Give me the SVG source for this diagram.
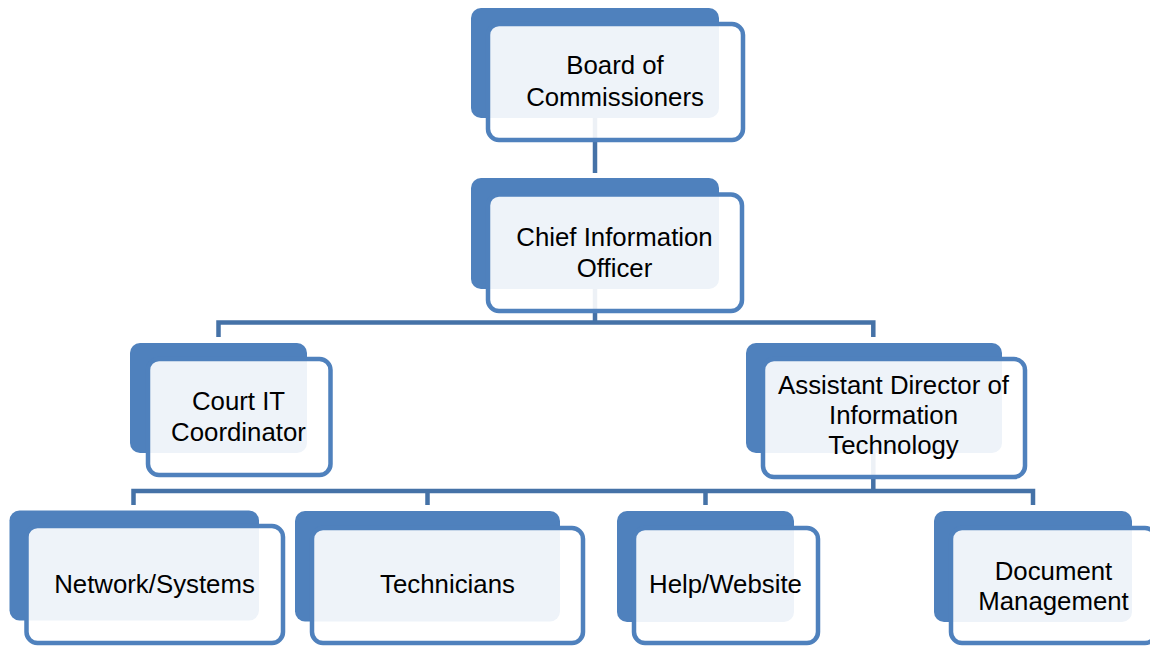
<svg xmlns="http://www.w3.org/2000/svg" width="1150" height="646" viewBox="0 0 1150 646">
<style>
.back{fill:#4F81BD;}
.front{fill:#FFFFFF;fill-opacity:0.9;stroke:#4F81BD;stroke-width:4.5;}
.lbl{font-family:"Liberation Sans",Arial,sans-serif;font-size:25.8px;fill:#000;text-anchor:middle;}
.conn{fill:none;stroke:#4572A7;stroke-width:4.5;stroke-linejoin:miter;stroke-linecap:butt;}
</style>
<rect width="1150" height="646" fill="#FFFFFF"/>
<g id="connectors">
<path class="conn" d="M595,115 V173"/>
<path class="conn" d="M595,285 V322.5 M218.5,337 V322.5 H873.3 V337"/>
<path class="conn" d="M873.3,450 V491 M133.5,505 V491 H1033 V505 M427.5,491 V505 M705.5,491 V505"/>
</g>
<g id="board">
<rect class="back" x="471" y="8" width="248" height="110" rx="10"/>
<rect class="front" x="488" y="24" width="255" height="116" rx="11"/>
<text class="lbl" x="615" y="74">Board of</text>
<text class="lbl" x="615" y="105.5">Commissioners</text>
</g>
<g id="cio">
<rect class="back" x="471" y="178" width="248" height="111" rx="10"/>
<rect class="front" x="488" y="194.5" width="254" height="116.5" rx="11"/>
<text class="lbl" x="614.5" y="246">Chief Information</text>
<text class="lbl" x="614.5" y="276.5">Officer</text>
</g>
<g id="court-it">
<rect class="back" x="130" y="343" width="177" height="110" rx="10"/>
<rect class="front" x="148" y="359" width="182.5" height="116" rx="11"/>
<text class="lbl" x="238.5" y="410">Court IT</text>
<text class="lbl" x="238.5" y="440.5">Coordinator</text>
</g>
<g id="adit">
<rect class="back" x="746" y="343" width="256" height="110" rx="10"/>
<rect class="front" x="763" y="359" width="262" height="118" rx="11"/>
<text class="lbl" x="893.5" y="394">Assistant Director of</text>
<text class="lbl" x="893.5" y="424">Information</text>
<text class="lbl" x="893.5" y="454">Technology</text>
</g>
<g id="network">
<rect class="back" x="9.5" y="510.5" width="249.5" height="110" rx="10"/>
<rect class="front" x="26.5" y="526" width="256.5" height="117" rx="11"/>
<text class="lbl" x="154.5" y="592.5">Network/Systems</text>
</g>
<g id="technicians">
<rect class="back" x="295" y="511" width="265" height="110.5" rx="10"/>
<rect class="front" x="312" y="528" width="271" height="115" rx="11"/>
<text class="lbl" x="447.5" y="592.5">Technicians</text>
</g>
<g id="help">
<rect class="back" x="617" y="511" width="177" height="111" rx="10"/>
<rect class="front" x="634" y="528" width="184" height="115" rx="11"/>
<text class="lbl" x="725.5" y="592.5">Help/Website</text>
</g>
<g id="document">
<rect class="back" x="934" y="511" width="198" height="111" rx="10"/>
<rect class="front" x="951" y="528" width="205" height="115" rx="11"/>
<text class="lbl" x="1053.5" y="579.5">Document</text>
<text class="lbl" x="1053.5" y="609.5">Management</text>
</g>
</svg>
